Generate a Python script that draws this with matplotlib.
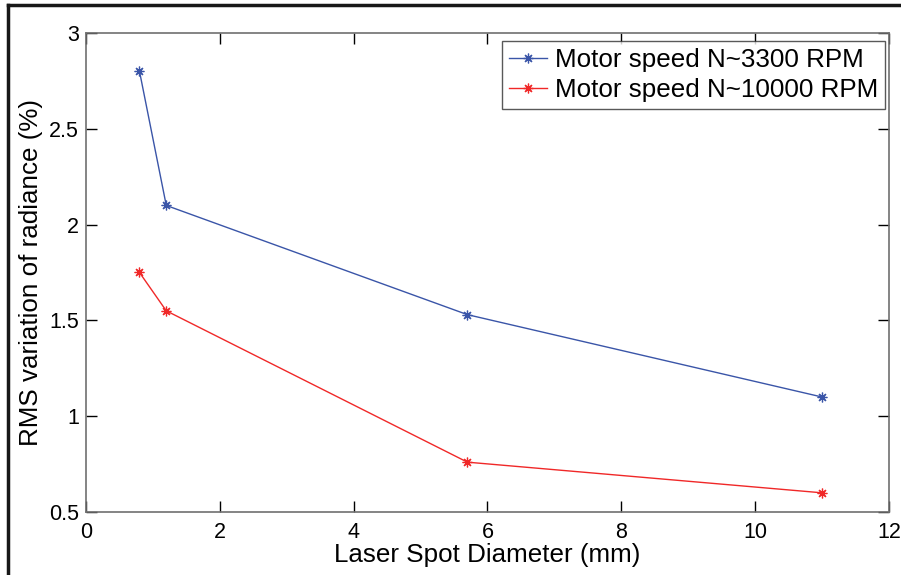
import matplotlib
matplotlib.use('Agg')
import matplotlib.pyplot as plt
from matplotlib.lines import Line2D

plt.rcParams['font.family'] = ['Liberation Sans', 'DejaVu Sans']

# spot diameter (mm) and RMS variation (%)
diameter = [0.8, 1.2, 5.7, 11.0]
rms_3300 = [2.80, 2.10, 1.53, 1.10]
rms_10000 = [1.75, 1.55, 0.76, 0.60]
labels = ['Motor speed N~3300 RPM', 'Motor speed N~10000 RPM']

fig = plt.figure(figsize=(9.01, 5.75), dpi=100)
ax = fig.add_axes([0.0954, 0.1096, 0.8913, 0.8330])

star = (8, 2, 0)
ax.plot(diameter, rms_3300, color='#3a55a8', lw=1.0, marker=star, ms=7, mew=0.9,
        label=labels[0])
ax.plot(diameter, rms_10000, color='#f02828', lw=1.0, marker=star, ms=7, mew=0.9,
        label=labels[1])

ax.set_xlim(0, 12)
ax.set_ylim(0.5, 3)
ax.set_xticks([0, 2, 4, 6, 8, 10, 12])
ax.set_yticks([0.5, 1, 1.5, 2, 2.5, 3])
ax.set_yticklabels(['0.5', '1', '1.5', '2', '2.5', '3'])
ax.tick_params(direction='in', length=8, width=1, colors='black', labelsize=15.5,
               top=True, right=True)
ax.tick_params(axis='x', pad=7)
ax.tick_params(axis='y', pad=5)
for s in ax.spines.values():
    s.set_color('#707070')
    s.set_linewidth(1.2)

ax.set_xlabel('Laser Spot Diameter (mm)', fontsize=18.7, labelpad=0)
ax.set_ylabel('RMS variation of radiance (%)', fontsize=18.7, labelpad=4)

leg = ax.legend(loc='upper right', bbox_to_anchor=(0.995, 0.983), borderaxespad=0,
                fontsize=18.7, frameon=True, fancybox=False, handlelength=1.5,
                handletextpad=0.3, labelspacing=0.25, borderpad=0.25)
leg.get_frame().set_edgecolor('#303030')
leg.get_frame().set_linewidth(1.0)

# page border (top and left)
fig.add_artist(Line2D([0.009, 0.009], [0, 0.992], transform=fig.transFigure,
                      color='#181818', lw=2.5))
fig.add_artist(Line2D([0.009, 1.0], [0.992, 0.992], transform=fig.transFigure,
                      color='#181818', lw=2.5))

fig.savefig('out.png', dpi=100)
